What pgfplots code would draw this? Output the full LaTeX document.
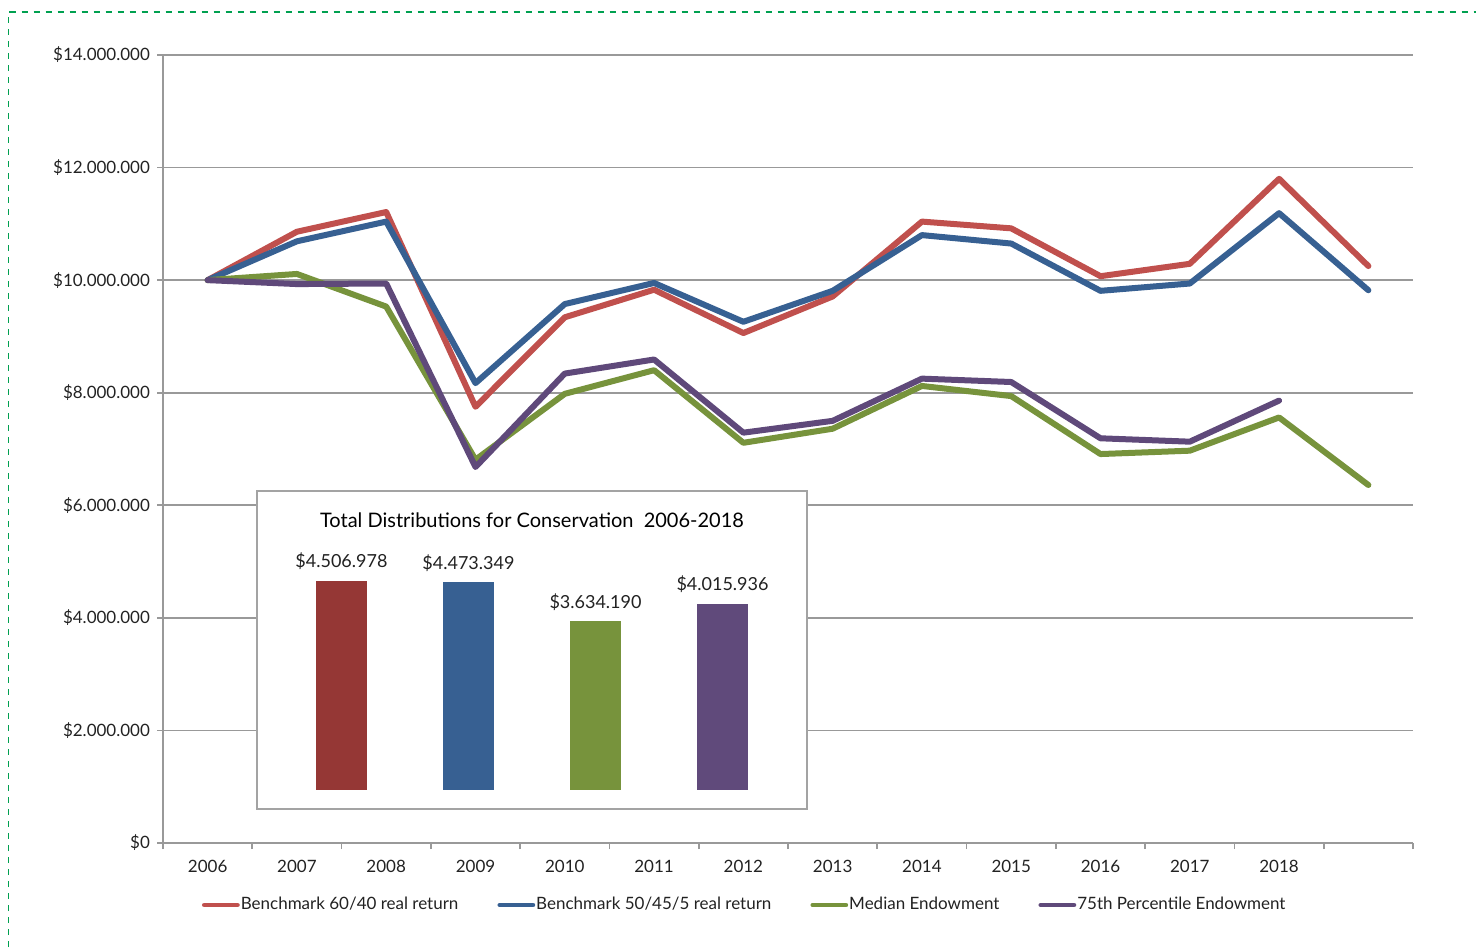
\documentclass[border=0pt]{standalone}
\usepackage{pgfplots}
\pgfplotsset{compat=1.18}
\usepackage{fontspec}
\setmainfont{Lato}
\definecolor{lred}{HTML}{C0504D}
\definecolor{lblue}{HTML}{376092}
\definecolor{lgreen}{HTML}{77933C}
\definecolor{lpurple}{HTML}{5F497A}
\definecolor{bred}{HTML}{953735}
\definecolor{bblue}{HTML}{376092}
\definecolor{bgreen}{HTML}{77933C}
\definecolor{bpurple}{HTML}{604A7B}
\definecolor{gridgray}{HTML}{999999}
\definecolor{frame}{HTML}{00A050}
\definecolor{txt}{HTML}{222222}
\begin{document}
\begin{tikzpicture}
\path[use as bounding box] (0pt,0pt) rectangle (738pt,473.5pt);
\draw[frame, dashed, line width=0.6pt] (4.25pt,0pt) -- (4.25pt,467.5pt) -- (738pt,467.5pt);
\begin{axis}[
  at={(81.5pt,52pt)}, anchor=south west,
  scale only axis, width=625pt, height=394pt,
  xmin=-0.5, xmax=13.5, ymin=0, ymax=14,
  axis x line*=bottom, axis y line*=left,
  axis line style={draw=gridgray, line width=0.8pt, -},
  tick align=outside,
  xtick={0,1,2,3,4,5,6,7,8,9,10,11,12},
  xticklabels={2006,2007,2008,2009,2010,2011,2012,2013,2014,2015,2016,2017,2018},
  major x tick style={draw=none},
  minor xtick={-0.5,0.5,1.5,2.5,3.5,4.5,5.5,6.5,7.5,8.5,9.5,10.5,11.5,12.5,13.5},
  minor tick length=3pt, major tick length=3pt,
  tick style={draw=gridgray, line width=0.8pt},
  ytick={0,2,4,6,8,10,12,14},
  yticklabels={\$0,\$2.000.000,\$4.000.000,\$6.000.000,\$8.000.000,\$10.000.000,\$12.000.000,\$14.000.000},
  ymajorgrids, grid style={draw=gridgray, line width=0.8pt},
  ticklabel style={font=\fontsize{8.5}{10}\selectfont, text=txt},
  xticklabel style={yshift=-2pt},
  legend style={at={(0.465,-0.0787)}, anchor=center, draw=none, fill=none,
    legend columns=4, font=\fontsize{8.5}{10}\selectfont, text=txt,
    nodes={inner sep=0.5pt},
    /tikz/every even column/.append style={column sep=19pt}},
  legend image code/.code={\draw[#1, line width=2.4pt, line cap=round] (0pt,0pt) -- (16.5pt,0pt);},
  every axis plot/.append style={line width=3pt, line join=round, line cap=round, mark=none},
]
\addplot[lred] coordinates {(0,10.0) (1,10.86) (2,11.21) (3,7.75) (4,9.34) (5,9.83) (6,9.06) (7,9.71) (8,11.04) (9,10.92) (10,10.07) (11,10.29) (12,11.80) (13,10.25)};
\addlegendentry{Benchmark 60/40 real return}
\addplot[lblue] coordinates {(0,10.0) (1,10.69) (2,11.04) (3,8.17) (4,9.575) (5,9.95) (6,9.26) (7,9.81) (8,10.80) (9,10.65) (10,9.81) (11,9.94) (12,11.19) (13,9.82)};
\addlegendentry{Benchmark 50/45/5 real return}
\addplot[lgreen] coordinates {(0,10.0) (1,10.11) (2,9.53) (3,6.81) (4,7.98) (5,8.40) (6,7.11) (7,7.36) (8,8.12) (9,7.94) (10,6.91) (11,6.97) (12,7.56) (13,6.36)};
\addlegendentry{Median Endowment}
\addplot[lpurple] coordinates {(0,10.0) (1,9.93) (2,9.94) (3,6.68) (4,8.34) (5,8.59) (6,7.29) (7,7.50) (8,8.25) (9,8.19) (10,7.19) (11,7.13) (12,7.86)};
\addlegendentry{75th Percentile Endowment}
\end{axis}
\begin{axis}[
  at={(128.5pt,69pt)}, anchor=south west,
  scale only axis, width=275pt, height=159pt,
  xmin=-0.665, xmax=3.665, ymin=-0.4095, ymax=6.444,
  axis background/.style={fill=white},
  axis line style={draw=gridgray!90, line width=0.9pt},
  xtick=\empty, ytick=\empty,
  nodes near coords style={font=\fontsize{9}{10}\selectfont, text=txt, anchor=south, yshift=2pt},
]
\addplot[ybar, bar shift=0pt, bar width=25.5pt, fill=bred, draw=none, nodes near coords={\$4.506.978}] coordinates {(0,4.506978)};
\addplot[ybar, bar shift=0pt, bar width=25.5pt, fill=bblue, draw=none, nodes near coords={\$4.473.349}] coordinates {(1,4.473349)};
\addplot[ybar, bar shift=0pt, bar width=25.5pt, fill=bgreen, draw=none, nodes near coords={\$3.634.190}] coordinates {(2,3.634190)};
\addplot[ybar, bar shift=0pt, bar width=25.5pt, fill=bpurple, draw=none, nodes near coords={\$4.015.936}] coordinates {(3,4.015936)};
\node[font=\fontsize{10}{12}\selectfont, text=black] at (rel axis cs:0.5,0.909) {Total Distributions for Conservation\ \ 2006-2018};
\end{axis}
\end{tikzpicture}
\end{document}
